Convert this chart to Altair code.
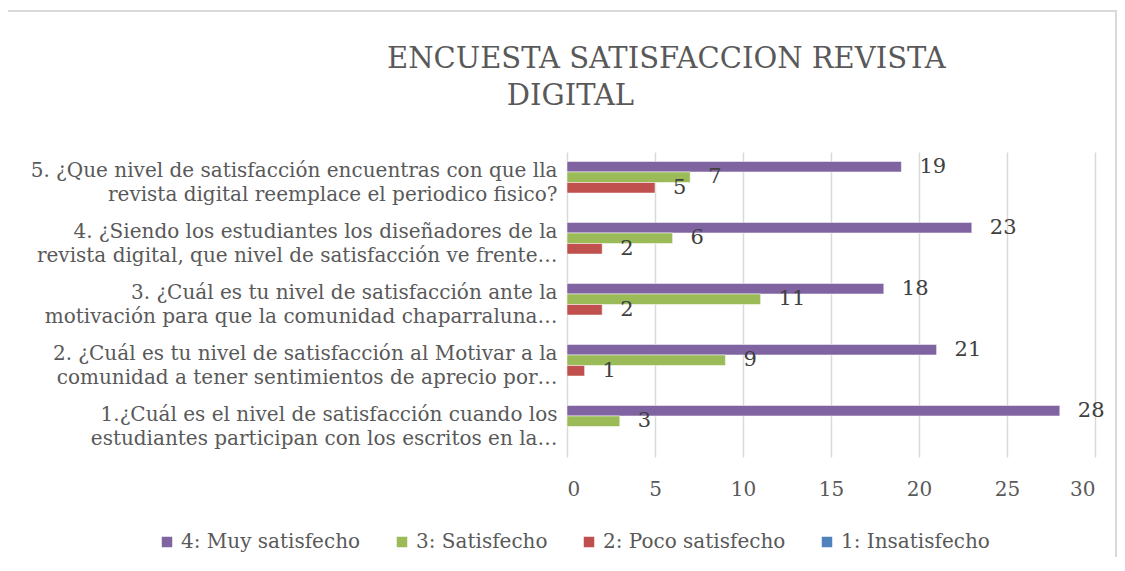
import altair as alt
import pandas as pd

questions = [
    "5. ¿Que nivel de satisfacción encuentras con que lla|revista digital reemplace el periodico fisico?",
    "4. ¿Siendo los estudiantes los diseñadores de la|revista digital, que nivel de satisfacción ve frente…",
    "3. ¿Cuál es tu nivel de satisfacción ante la|motivación para que la comunidad chaparraluna…",
    "2. ¿Cuál es tu nivel de satisfacción al Motivar a la|comunidad a tener sentimientos de aprecio por…",
    "1.¿Cuál es el nivel de satisfacción cuando los|estudiantes participan con los escritos en la…",
]
series = ["4: Muy satisfecho", "3: Satisfecho", "2: Poco satisfecho", "1: Insatisfecho"]
colors = ["#8064A2", "#9BBB59", "#C0504D", "#4F81BD"]

muy_satisfecho = [19, 23, 18, 21, 28]
satisfecho = [7, 6, 11, 9, 3]
poco_satisfecho = [5, 2, 2, 1, None]
insatisfecho = [None, None, None, None, None]

rows = []
for s, vals in zip(series, [muy_satisfecho, satisfecho, poco_satisfecho, insatisfecho]):
    for q, v in zip(questions, vals):
        rows.append({"pregunta": q, "serie": s, "valor": v})
df = pd.DataFrame(rows)

FONT = "DejaVu Serif"

y_enc = alt.Y(
    "pregunta:N",
    sort=questions,
    scale=alt.Scale(domain=questions, paddingInner=0, paddingOuter=0),
    axis=alt.Axis(
        title=None,
        labelExpr="split(datum.label, '|')",
        labelAlign="right",
        labelPadding=10,
        labelOffset=-12,
        labelLimit=700,
        labelFontSize=20,
        labelLineHeight=24,
        labelColor="#595959",
        labelFont=FONT,
        domain=False,
        ticks=False,
    ),
)
yoff_enc = alt.YOffset(
    "serie:N",
    sort=series,
    scale=alt.Scale(domain=series, paddingInner=0, paddingOuter=0.9),
)
x_enc = alt.X(
    "valor:Q",
    scale=alt.Scale(domain=[0, 30], nice=False),
    axis=alt.Axis(
        title=None,
        values=[0, 5, 10, 15, 20, 25, 30],
        grid=True,
        gridColor="#d9d9d9",
        gridWidth=1.5,
        domain=False,
        ticks=False,
        labelPadding=22,
        labelFontSize=20,
        labelColor="#595959",
        labelFont=FONT,
    ),
)

base = alt.Chart(df)

bars = base.mark_bar(stroke="white", strokeWidth=0.5).encode(
    y=y_enc,
    yOffset=yoff_enc,
    x=x_enc,
    color=alt.Color(
        "serie:N",
        scale=alt.Scale(domain=series, range=colors),
        legend=alt.Legend(
            title=None,
            orient="none",
            legendX=-410,
            legendY=380,
            direction="horizontal",
            columns=4,
            columnPadding=31,
            symbolType="square",
            symbolSize=110,
            symbolStrokeWidth=0,
            labelFontSize=20,
            labelFont=FONT,
            labelColor="#595959",
            labelLimit=400,
            labelOffset=4,
        ),
    ),
)

labels = base.transform_filter("isValid(datum.valor)").mark_text(
    align="left", baseline="middle", dx=18, dy=0, fontSize=21, font=FONT, color="#404040"
).encode(
    y=alt.Y("pregunta:N", sort=questions),
    yOffset=alt.YOffset("serie:N", sort=series),
    x="valor:Q",
    text="valor:Q",
)

border = alt.Chart(pd.DataFrame({"a": [0]})).mark_rect(
    fill=None, stroke="#d9d9d9", strokeWidth=2
).encode(
    x=alt.value(-560), x2=alt.value(549), y=alt.value(-141), y2=alt.value(700)
)

chart = alt.layer(border, bars, labels).properties(
    width=528,
    height=305,
    autosize=alt.AutoSizeParams(type="none"),
    padding={"left": 559, "top": 144, "right": 22, "bottom": 100},
    title=alt.Title(
        ["ENCUESTA SATISFACCION REVISTA", "\u200b" + "\u00a0" * 13 + "DIGITAL"],
        anchor="start",
        frame="group",
        dx=-180,
        dy=141,
        offset=40,
        fontSize=29,
        lineHeight=37,
        font=FONT,
        fontWeight="normal",
        color="#595959",
    ),
).configure_view(stroke=None)

chart.save("out.html", embed_options={"renderer": "svg", "actions": False})
